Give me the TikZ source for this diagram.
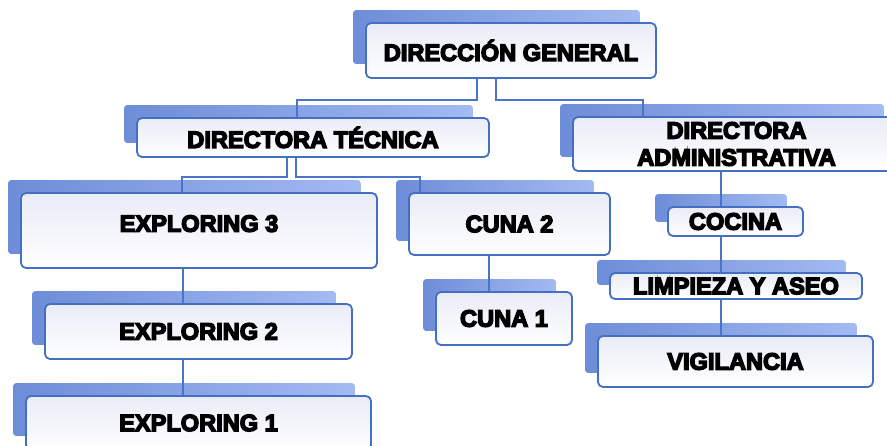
\documentclass[tikz,border=0pt]{standalone}
\usepackage{fontspec}
\newfontfamily\boxfont{Liberation Sans}[UprightFont=* Bold, FakeBold=6]
\usetikzlibrary{backgrounds}
\definecolor{boxline}{HTML}{4470C4}
\definecolor{boxtop}{HTML}{E9ECF7}
\definecolor{shL}{HTML}{6E8DD8}
\definecolor{shR}{HTML}{A3BAF2}
\definecolor{connc}{HTML}{4A74C8}
\begin{document}
\begin{tikzpicture}[x=1pt,y=-1pt,
  box/.style={draw=boxline, line width=1.8pt, rounded corners=5pt,
    top color=boxtop, bottom color=white, text=black, inner sep=0pt,
    align=center, font=\boxfont\fontsize{23.6}{27}\selectfont},
  shadowbox/.style={left color=shL, right color=shR, rounded corners=3pt},
  conn/.style={draw=connc, line width=2.8pt}]
\useasboundingbox (0,0) rectangle (887,445);
\clip (0,0) rectangle (887,445);

\node[box, minimum width=290pt, minimum height=55pt] (dg) at (511,50.5) {DIRECCIÓN GENERAL};
\node[box, minimum width=352pt, minimum height=39pt] (dt) at (313,137.5) {DIRECTORA TÉCNICA};
\node[box, minimum width=327pt, minimum height=54pt] (da) at (736.5,144) {DIRECTORA\\ADMINISTRATIVA};
\node[box, minimum width=356pt, minimum height=75pt] (ex3) at (199,230.5) {\raisebox{14pt}{EXPLORING 3}};
\node[box, minimum width=307pt, minimum height=55pt] (ex2) at (198.5,331.5) {EXPLORING 2};
\node[box, minimum width=345pt, minimum height=54pt] (ex1) at (198.5,423) {EXPLORING 1};
\node[box, minimum width=201pt, minimum height=62pt] (cu2) at (509.5,224) {CUNA 2};
\node[box, minimum width=136pt, minimum height=53pt] (cu1) at (504,318.5) {CUNA 1};
\node[box, minimum width=135pt, minimum height=29pt] (coc) at (735.5,221.5) {COCINA};
\node[box, minimum width=252pt, minimum height=26pt] (lim) at (736,286) {LIMPIEZA Y ASEO};
\node[box, minimum width=275pt, minimum height=51pt] (vig) at (735.5,361.5) {VIGILANCIA};

\begin{scope}[on background layer]
  \foreach \n in {dg,dt,da,ex3,ex2,ex1,cu2,cu1,coc,lim,vig}{
    \path[shadowbox] ([shift={(-12,-12)}]\n.north west) rectangle ([shift={(-17,-15)}]\n.south east);
  }
  \draw[conn] (dg.south -| 477,0) |- (297,100) -- (dt.north -| 297,0);
  \draw[conn] (dg.south -| 496,0) |- (643,100) -- (da.north -| 643,0);
  \draw[conn] (dt.south -| 287,0) |- (182,177) -- (ex3.north -| 182,0);
  \draw[conn] (dt.south -| 296,0) |- (420,177) -- (cu2.north -| 420,0);
  \draw[conn] (ex3.south -| 183,0) -- (ex2.north -| 183,0);
  \draw[conn] (ex2.south -| 183,0) -- (ex1.north -| 183,0);
  \draw[conn] (cu2.south -| 489,0) -- (cu1.north -| 489,0);
  \draw[conn] (da.south -| 721,0) -- (coc.north -| 721,0);
  \draw[conn] (coc.south -| 721,0) -- (lim.north -| 721,0);
  \draw[conn] (lim.south -| 721,0) -- (vig.north -| 721,0);
\end{scope}
\end{tikzpicture}
\end{document}
